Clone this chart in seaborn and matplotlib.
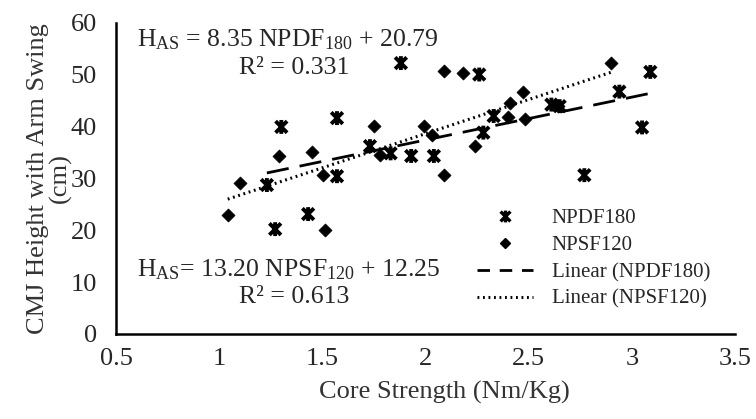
import numpy as np
import pandas as pd
import seaborn as sns
import matplotlib
matplotlib.use('Agg')
import matplotlib.pyplot as plt
from matplotlib.path import Path
from matplotlib.lines import Line2D

# values (core strength vs CMJ height)
npdf_x = [1.23, 1.30, 1.27, 1.43, 1.57, 1.57, 1.73, 1.83, 1.93, 2.04,
          1.88, 2.26, 2.28, 2.33, 2.61, 2.65, 2.94, 3.09, 3.05, 2.77]
npdf_y = [28.7, 39.9, 20.2, 23.1, 41.6, 30.4, 36.2, 34.8, 34.3, 34.3,
          52.2, 50.0, 38.8, 42.0, 44.2, 43.9, 46.7, 50.5, 39.8, 30.6]
npsf_x = [1.04, 1.10, 1.29, 1.45, 1.50, 1.51, 1.75, 1.78, 1.99, 2.03,
          2.09, 2.09, 2.18, 2.24, 2.41, 2.47, 2.40, 2.48, 2.90, 2.64]
npsf_y = [22.9, 29.0, 34.2, 35.1, 30.6, 20.0, 40.1, 34.5, 40.1, 38.3,
          30.6, 50.7, 50.2, 36.2, 44.6, 46.7, 41.9, 41.4, 52.3, 44.0]

x_ticks = [0.5, 1, 1.5, 2, 2.5, 3, 3.5]
x_tick_labels = ['0.5', '1', '1.5', '2', '2.5', '3', '3.5']
y_ticks = [0, 10, 20, 30, 40, 50, 60]

npdf = pd.DataFrame({'x': npdf_x, 'y': npdf_y})
npsf = pd.DataFrame({'x': npsf_x, 'y': npsf_y})

sns.set_style('white')
plt.rcParams['font.family'] = ['Liberation Serif', 'DejaVu Serif']
plt.rcParams['mathtext.fontset'] = 'custom'
plt.rcParams['mathtext.rm'] = 'Liberation Serif'
plt.rcParams['mathtext.it'] = 'Liberation Serif:italic'

# excel style "star" marker: x with a vertical bar
star = Path([(-1, -1), (1, 1), (-1, 1), (1, -1), (0, -1.2), (0, 1.2)],
            [Path.MOVETO, Path.LINETO, Path.MOVETO, Path.LINETO, Path.MOVETO, Path.LINETO])

fig, ax = plt.subplots(figsize=(7.56, 4.19), dpi=100)
fig.subplots_adjust(left=0.154, right=0.972, bottom=0.203, top=0.946)

sns.regplot(data=npdf, x='x', y='y', scatter=False, ci=None, ax=ax,
            line_kws={'color': 'black', 'lw': 2, 'dashes': (8, 4)})
sns.regplot(data=npsf, x='x', y='y', scatter=False, ci=None, ax=ax,
            line_kws={'color': 'black', 'lw': 2.2, 'dashes': (0.6, 1.2)})

ax.scatter(npdf['x'], npdf['y'], marker=star, s=100, facecolor='none',
           edgecolor='black', linewidths=2.8, zorder=3)
sns.scatterplot(data=npsf, x='x', y='y', marker='D', s=44, color='black',
                edgecolor='black', ax=ax, zorder=3)

ax.set_xlim(0.5, 3.5)
ax.set_ylim(0, 60)
ax.set_xticks(x_ticks)
ax.set_xticklabels(x_tick_labels)
ax.set_yticks(y_ticks)
ax.tick_params(axis='both', direction='out', length=6, width=1.5, labelsize=19, color='black')
ax.tick_params(axis='y', pad=8)
ax.tick_params(axis='x', pad=4)
sns.despine(ax=ax)
for s in ['left', 'bottom']:
    ax.spines[s].set_linewidth(1.8)
    ax.spines[s].set_color('black')

ax.set_xlabel('Core Strength (Nm/Kg)', fontsize=19, color='#333333')
ax.set_ylabel('CMJ Height with Arm Swing\n(cm)', fontsize=19, linespacing=1.0, color='#333333')
ax.xaxis.set_label_coords(0.53, -0.15)
ax.yaxis.set_label_coords(-0.072, 0.5)

ax.text(0.033, 0.944, r'H$_{\mathrm{AS}}$ = 8.35 NPDF$_{\mathrm{180}}$ + 20.79',
        transform=ax.transAxes, fontsize=18.5, va='center', ha='left')
ax.text(0.287, 0.854, 'R² = 0.331', transform=ax.transAxes, fontsize=18.5, va='center', ha='center')
ax.text(0.033, 0.206, r'H$_{\mathrm{AS}}$= 13.20 NPSF$_{\mathrm{120}}$ + 12.25',
        transform=ax.transAxes, fontsize=18.5, va='center', ha='left')
ax.text(0.287, 0.119, 'R² = 0.613', transform=ax.transAxes, fontsize=18.5, va='center', ha='center')

handles = [
    Line2D([], [], marker=star, linestyle='none', color='black', markersize=8.5, mew=2.4),
    Line2D([], [], marker='D', linestyle='none', color='black', markersize=5.5),
    Line2D([], [], color='black', lw=2, dashes=(4.5, 3.5)),
    Line2D([], [], color='black', lw=2.2, dashes=(0.6, 1.2)),
]
labels = ['NPDF180', 'NPSF120', 'Linear (NPDF180)', 'Linear (NPSF120)']
ax.legend(handles, labels, loc='lower right', bbox_to_anchor=(0.99, 0.02), frameon=False,
          fontsize=15, handlelength=2.7, handletextpad=0.9, labelspacing=0.35)

plt.savefig('out.png', dpi=100)
